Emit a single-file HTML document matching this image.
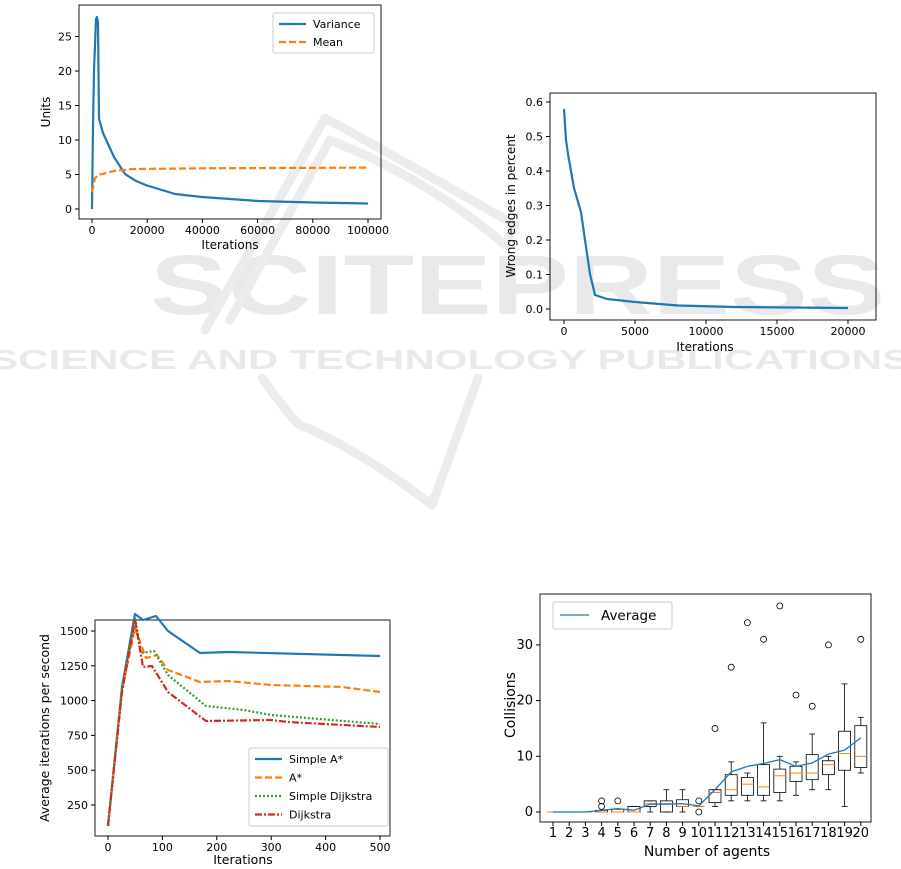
<!DOCTYPE html>
<html><head><meta charset="utf-8"><style>
body{margin:0;background:#fff;}
svg{display:block;font-family:"DejaVu Sans","Liberation Sans",sans-serif;}
</style></head><body>
<svg id="s" width="901" height="869" viewBox="0 0 901 869" xmlns="http://www.w3.org/2000/svg">
<g fill="#e9e9e9" font-family="Liberation Sans, sans-serif" font-weight="bold">
<text x="150" y="314" font-size="84" textLength="735" lengthAdjust="spacingAndGlyphs">SCITEPRESS</text>
<text x="-10" y="369" font-size="28" textLength="920" lengthAdjust="spacingAndGlyphs">SCIENCE AND TECHNOLOGY PUBLICATIONS</text>
</g>
<g fill="none" stroke="#ececec" stroke-width="9" stroke-linejoin="round" stroke-linecap="round">
<path d="M205 330 L325 118 Q420 170 515 225 L505 245 Q430 180 330 140 L230 320"/>
<path d="M262 378 Q285 410 298 424 Q360 450 432 505 L478 378"/>
</g>
<g id="g"></g>
</svg>
<script>
const g=document.getElementById('g');let h='';
function P(pts,c,w,d){h+=`<polyline fill="none" stroke="${c}" stroke-width="${w}" ${d?`stroke-dasharray="${d}"`:''} stroke-linejoin="round" points="${pts.map(p=>p.join(',')).join(' ')}"/>`;}
function T(x,y,t,s,a,r){h+=`<text x="${x}" y="${y}" font-size="${s}" text-anchor="${a||'middle'}" fill="#000" ${r?`transform="rotate(-90 ${x} ${y})"`:''}>${t}</text>`;}
function box(x1,y1,x2,y2){h+=`<rect x="${x1}" y="${y1}" width="${x2-x1}" height="${y2-y1}" fill="none" stroke="#000" stroke-width="0.9"/>`;}
function yt(x,y,t,s){h+=`<line x1="${x-4}" x2="${x}" y1="${y}" y2="${y}" stroke="#000"/>`;T(x-7,y+4,t,s,'end');}
function xt(x,y,t,s){h+=`<line x1="${x}" x2="${x}" y1="${y}" y2="${y+4}" stroke="#000"/>`;T(x,y+15,t,s);}
// chart1
box(79,5,381,219);
[0,5,10,15,20,25].forEach(v=>yt(79,209-v*6.9,v,11));
[0,20000,40000,60000,80000,100000].forEach(v=>xt(92+v*0.00276,219,v,11));
T(230,249,'Iterations',12);T(50,112,'Units',12,'middle',1);
P([[92,209],[93,126],[94,71],[96,19],[97,17],[98,23],[99,119],[103,133],[114,157],[125,174],[136,181],[147,185.5],[175,194],[202,197],[258,201],[313,202.5],[368,203.5]],'#1f77b4',2.2);
P([[92,192],[95,178],[100,174.5],[114,171],[133,169],[202,168.3],[368,167.6]],'#ff7f0e',2.2,'7,3');
h+=`<rect x="273" y="13" width="101" height="40" fill="#fff" stroke="#ccc" rx="2"/>`;
P([[279,24],[306,24]],'#1f77b4',2.2);P([[279,42],[306,42]],'#ff7f0e',2.2,'7,3');
T(313,28,'Variance',11,'start');T(313,46,'Mean',11,'start');
// chart2
box(550,93,876,320);
[0,0.1,0.2,0.3,0.4,0.5,0.6].forEach(v=>yt(550,309-v*345,v.toFixed(1),11));
[0,5000,10000,15000,20000].forEach(v=>xt(564+v*0.0142,320,v,11));
T(705,351,'Iterations',12);T(515,206,'Wrong edges in percent',12,'middle',1);
P([[564,109],[566,140],[568,154],[574,188],[581,212],[585,240],[590,274],[595,295],[607,299],[635,302],[678,305.5],[734,307],[848,308]],'#1f77b4',2.2);
// chart3
box(95,620,390,836);
[250,500,750,1000,1250,1500].forEach(v=>yt(95,805-(v-250)*0.1392,v,11));
[0,100,200,300,400,500].forEach(v=>xt(108+v*0.544,836,v,11));
T(243,864,'Iterations',12.5);T(49,728,'Average iterations per second',12.5,'middle',1);
P([[108,826],[122,687],[135,614],[143,620],[156,616],[168,631],[200,653],[228,652],[380,656]],'#1f77b4',2.2);
P([[108,826],[122,690],[135,628],[146,658],[157,655],[168,670],[200,682],[228,681],[271,685],[342,687],[380,692]],'#ff7f0e',2.2,'7,3');
P([[108,826],[122,690],[135,617],[141,653],[154,651],[168,675],[206,706],[244,710],[271,715],[380,724]],'#2ca02c',2.2,'2,2');
P([[108,826],[122,692],[135,620],[143,667],[152,666],[168,692],[206,721],[271,720],[288,722],[380,727]],'#d62728',2.2,'7,2,2,2');
h+=`<rect x="249" y="748" width="139" height="78" fill="#fff" stroke="#ccc" rx="2"/>`;
[['Simple A*','#1f77b4',''],['A*','#ff7f0e','7,3'],['Simple Dijkstra','#2ca02c','2,2'],['Dijkstra','#d62728','7,2,2,2']].forEach((l,i)=>{const y=759+i*18.5;P([[255,y],[282,y]],l[1],2.2,l[2]);T(289,y+4,l[0],11,'start');});
// chart4
box(540,594,871,822);
const Y=v=>812-v*5.57,X=i=>553+(i-1)*16.2;
[0,10,20,30].forEach(v=>yt(540,Y(v),v,13));
for(let i=1;i<=20;i++)xt(X(i),822,i,13);
T(707,856,'Number of agents',14);T(515,705,'Collisions',14,'middle',1);
const B=[[1,0,0,0,0,0,[]],[2,0,0,0,0,0,[]],[3,0,0,0,0,0,[]],[4,0,0.3,0,0,0.3,[1,2]],[5,0,0.5,0,0,0.5,[2]],[6,0,1,0,0,1,[]],[7,1,2,1.5,0,2,[]],[8,0,2,1.5,0,4,[]],[9,1,2.2,1,0,4,[]],[10,1,1,1,1,1,[0,2]],[11,1.7,4,3.5,1,4,[15]],[12,3,6.7,4,2,9,[26]],[13,3,6.2,5,2,7,[34]],[14,3,8.5,4.5,2,16,[31]],[15,3.5,7.7,6.5,2,10,[37]],[16,5.5,8.2,7,3,9,[21]],[17,5.8,10.3,7,4,14,[19]],[18,6.7,9.2,8.5,4,10,[30]],[19,7.5,14.5,10.5,1,23,[]],[20,8,15.5,10,7,17,[31]]];
B.forEach(b=>{const x=X(b[0]);
h+=`<line x1="${x}" x2="${x}" y1="${Y(b[4])}" y2="${Y(b[1])}" stroke="#000" stroke-width="0.8"/><line x1="${x}" x2="${x}" y1="${Y(b[2])}" y2="${Y(b[5])}" stroke="#000" stroke-width="0.8"/>`;
h+=`<line x1="${x-3}" x2="${x+3}" y1="${Y(b[4])}" y2="${Y(b[4])}" stroke="#000" stroke-width="0.8"/><line x1="${x-3}" x2="${x+3}" y1="${Y(b[5])}" y2="${Y(b[5])}" stroke="#000" stroke-width="0.8"/>`;
h+=`<rect x="${x-6}" y="${Y(b[2])}" width="12" height="${Y(b[1])-Y(b[2])}" fill="none" stroke="#000" stroke-width="0.8"/>`;
h+=`<line x1="${x-6}" x2="${x+6}" y1="${Y(b[3])}" y2="${Y(b[3])}" stroke="#ff7f0e" stroke-width="1"/>`;
b[6].forEach(f=>h+=`<circle cx="${x}" cy="${Y(f)}" r="3" fill="none" stroke="#000" stroke-width="0.8"/>`);});
const av=[0,0,0,0.3,0.6,0.3,1.4,1.4,1.5,1.1,4,7.2,8.2,8.7,9.4,8.2,8.8,10.4,11.1,13.3];
P(av.map((v,i)=>[X(i+1),Y(v)]),'#1f77b4',1.3);
h+=`<rect x="553" y="602" width="119" height="27" fill="#fff" stroke="#ccc" rx="2"/>`;
P([[560,615],[589,615]],'#1f77b4',1.3);T(601,620,'Average',13.5,'start');
g.innerHTML=h;
</script>
</body></html>
